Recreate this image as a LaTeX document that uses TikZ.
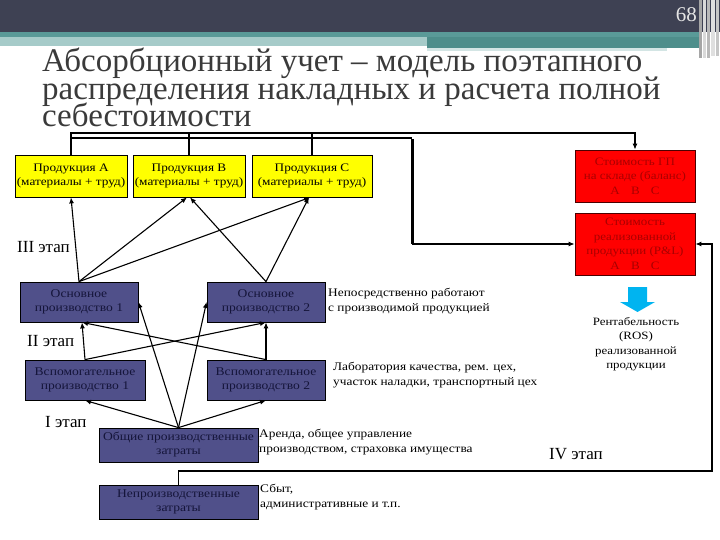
\documentclass[tikz,border=0pt]{standalone}
\usepackage{fontspec}
\setmainfont{Liberation Serif}
\newfontfamily\tms{Liberation Serif}
\newfontfamily\tmsw{Liberation Serif}[FakeStretch=1.15]
\usetikzlibrary{arrows.meta,calc}
\definecolor{hdark}{HTML}{3E4153}
\definecolor{tealA}{HTML}{5A9A98}
\definecolor{tealL}{HTML}{A6CBC9}
\definecolor{tealD}{HTML}{4E8E8B}
\definecolor{titlec}{HTML}{3A3A3A}
\definecolor{yel}{HTML}{FFFF00}
\definecolor{redf}{HTML}{FF0000}
\definecolor{redt}{HTML}{A80000}
\definecolor{bluef}{HTML}{50508A}
\definecolor{bluet}{HTML}{15153A}
\definecolor{cyanf}{HTML}{00B4F0}
\tikzset{
  box/.style={draw=black, line width=0.8pt, inner sep=1pt, align=center, font=\tmsw\fontsize{11.5}{13.5}\selectfont},
  ybox/.style={box, fill=yel, text=black},
  rbox/.style={box, fill=redf, draw=black!70!red, text=redt, font=\tmsw\fontsize{11.3}{14.5}\selectfont},
  bbox/.style={box, fill=bluef, text=bluet, font=\tmsw\fontsize{11.8}{14}\selectfont},
  note/.style={anchor=north west, inner sep=0pt, align=left, font=\tmsw\fontsize{11.6}{15}\selectfont},
  stage/.style={anchor=base west, inner sep=0pt, font=\tms\fontsize{17}{20}\selectfont, text=black},
  ttl/.style={anchor=base west, inner sep=0pt, text=titlec, font=\tms\fontsize{33}{33}\selectfont},
  arr/.style={line width=1.1pt, -{Latex[length=6pt,width=5pt]}},
  ln/.style={line width=1.1pt},
}
\begin{document}
\begin{tikzpicture}[x=1pt,y=-1pt]
\useasboundingbox (0,0) rectangle (720,540);
% header
\fill[hdark] (0,0) rectangle (720,32);
\fill[tealA] (0,32) rectangle (699,37);
\fill[tealL] (0,37) rectangle (427,46);
\fill[tealD] (427,37) rectangle (699,48);
\fill[tealL!50!white] (427,48) rectangle (667,51);
\fill[gray!70] (699,0) rectangle (702,58);
\fill[gray!30] (703,0) rectangle (706,58);
\fill[gray!55] (707,0) rectangle (710,58);
\fill[gray!25] (711,0) rectangle (715,56);
\fill[gray!45] (716,0) rectangle (719,56);
\node[anchor=base east, inner sep=0pt, text=white!90!black, font=\tms\fontsize{21}{22}\selectfont] (pg) at (697,22) {68};
% title
\node[ttl] (ttl1) at (42,72) {Абсорбционный учет – модель поэтапного};
\node[ttl] (ttl2) at (42,100) {распределения накладных и расчета полной};
\node[ttl] (ttl3) at (42,127) {себестоимости};
% product boxes
\node[ybox, minimum width=112, minimum height=42] (A) at (71,176) {Продукция А\\(материалы + труд)};
\node[ybox, minimum width=112, minimum height=42] (B) at (189,176) {Продукция В\\(материалы + труд)};
\node[ybox, minimum width=120, minimum height=42] (C) at (312,176) {Продукция С\\(материалы + труд)};
% red boxes
\node[rbox, minimum width=120, minimum height=52] (R1) at (635,176) {Стоимость ГП\\на складе (баланс)\\А\quad В\quad С};
\node[rbox, minimum width=120, minimum height=62] (R2) at (635,244) {Стоимость\\реализованной\\продукции (P\&L)\\А\quad В\quad С};
% blue boxes
\node[bbox, minimum width=118, minimum height=40] (O1) at (79,302) {Основное\\производство 1};
\node[bbox, minimum width=118, minimum height=40] (O2) at (266,302) {Основное\\производство 2};
\node[bbox, minimum width=120, minimum height=40] (V1) at (85,380) {Вспомогательное\\производство 1};
\node[bbox, minimum width=118, minimum height=40] (V2) at (266,380) {Вспомогательное\\производство 2};
\node[bbox, minimum width=159, minimum height=34] (G) at (178.5,445) {Общие производственные\\затраты};
\node[bbox, minimum width=159, minimum height=34] (N) at (178.5,502) {Непроизводственные\\затраты};
% stage labels
\node[stage] (s3) at (17,252) {III этап};
\node[stage] (s2) at (27,346) {II этап};
\node[stage] (s1) at (45,427) {I этап};
\node[stage] (s4) at (549,459) {IV этап};
% notes
\node[note] (n1) at (328,288) {Непосредственно работают\\с производимой продукцией};
\node[note] (n2) at (333,362) {Лаборатория качества, рем. цех,\\участок наладки, транспортный цех};
\node[note] (n3) at (259,429) {Аренда, общее управление\\производством, страховка имущества};
\node[note] (n4) at (260,484) {Сбыт,\\административные и т.п.};
\node[anchor=north, inner sep=0pt, align=center, font=\tmsw\fontsize{11.2}{14.5}\selectfont] (ros) at (636,317) {Рентабельность\\(ROS)\\реализованной\\продукции};
% cyan arrow
\fill[cyanf] (628,287) -- (647,287) -- (647,302) -- (655,302) -- (637.5,312) -- (620,302) -- (628,302) -- cycle;
% top connectors
\coordinate (h1) at (71,133);
\coordinate (h2) at (412,138);
\draw[arr] (A.north) -- (A.north |- h1) -| (R1.north);
\draw[ln] (B.north) -- (B.north |- h1);
\draw[ln] (C.north) -- (C.north |- h1);
\draw[ln] (A.north |- h2) -- (h2);
\draw[line width=3pt] ([yshift=-1pt]h2) -- (h2 |- R2.west);
\draw[arr] (h2 |- R2.west) -- (R2.west);
% frame from non-production costs
\coordinate (f) at (712,471);
\draw[arr] (N.north) |- (f) |- (R2.east);
% stage III arrows
\draw[arr] (O1.north) -- (A.south);
\draw[arr] (O1.north) -- ([xshift=-2pt]B.south);
\draw[arr] (O1.north) -- ([xshift=-2pt]C.south);
\draw[arr] (O2.north) -- ([xshift=1pt]B.south);
\draw[arr] (O2.north) -- ([xshift=-3pt]C.south);
% stage II arrows
\draw[arr] (V1.north) -- ([xshift=3pt]O1.south);
\draw[arr] (V1.north) -- (O2.south);
\draw[arr] (V2.north) -- (O2.south);
\draw[arr] (V2.north) -- ([xshift=3pt]O1.south);
% stage I arrows
\draw[arr] (G.north) -- (V1.south);
\draw[arr] (G.north) -- (O1.east);
\draw[arr] (G.north) -- (O2.west);
\draw[arr] (G.north) -- (V2.south);
\end{tikzpicture}
\end{document}
